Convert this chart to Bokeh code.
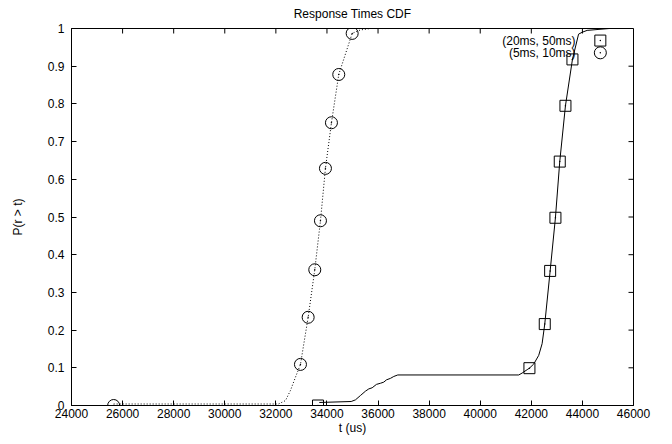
from bokeh.plotting import figure
from bokeh.models import Range1d, FixedTicker
from bokeh.core.properties import value
from bokeh.embed import file_html
from bokeh.resources import INLINE

title_text = "Response Times CDF"
x_label = "t (us)"
y_label = "P(r > t)"
x_ticks = [24000, 26000, 28000, 30000, 32000, 34000, 36000, 38000, 40000, 42000, 44000, 46000]
y_ticks = [0, 0.1, 0.2, 0.3, 0.4, 0.5, 0.6, 0.7, 0.8, 0.9, 1]
y_tick_labels = ["0", "0.1", "0.2", "0.3", "0.4", "0.5", "0.6", "0.7", "0.8", "0.9", "1"]

# Series A: (20ms, 50ms) - solid line, squares
a_name = "(20ms, 50ms)"
a_curve_t = [33700, 34948, 35116, 35311, 35507, 35637, 35770, 35938, 36094, 36224, 36329,
             36486, 36615, 36772, 41508, 41640, 41836, 41926, 42095, 42290, 42423, 42526,
             42737, 42944, 43113, 43336, 43610, 43850, 43990, 44185, 45050]
a_curve_p = [0.008, 0.0106, 0.015, 0.0265, 0.038, 0.044, 0.047, 0.056, 0.059, 0.062, 0.068,
             0.072, 0.077, 0.081, 0.081, 0.086, 0.095, 0.099, 0.11, 0.133, 0.164, 0.216,
             0.357, 0.498, 0.647, 0.795, 0.918, 0.985, 0.99, 0.995, 1.0]
a_pts_t = [33650, 41926, 42526, 42737, 42944, 43113, 43336, 43610]
a_pts_p = [0.0, 0.099, 0.216, 0.357, 0.498, 0.647, 0.795, 0.918]

# Series B: (5ms, 10ms) - dotted line, circles
b_name = "(5ms, 10ms)"
b_curve_t = [25650, 32100, 32376, 32572, 32767, 32963, 33264, 33523, 33746, 33941, 34176,
             34462, 34987, 35300, 35700]
b_curve_p = [0.004, 0.004, 0.013, 0.04, 0.075, 0.109, 0.234, 0.36, 0.49, 0.629, 0.75,
             0.878, 0.987, 0.996, 1.0]
b_pts_t = [25650, 32963, 33264, 33523, 33746, 33941, 34176, 34462, 34987]
b_pts_p = [0.0, 0.109, 0.234, 0.36, 0.49, 0.629, 0.75, 0.878, 0.987]

FONT = "Liberation Sans"
FS = "12px"
FW, FH = 562, 377
TICK = 5

x0, x1 = x_ticks[0], x_ticks[-1]
y0, y1 = y_ticks[0], y_ticks[-1]

p = figure(output_backend="svg", toolbar_location=None,
           frame_width=FW, frame_height=FH,
           min_border_left=71, min_border_right=39, min_border_top=28, min_border_bottom=39,
           x_range=Range1d(x0, x1), y_range=Range1d(y0, y1),
           x_axis_label=x_label, y_axis_label=y_label)
p.title.text = title_text
p.title.align = "center"
p.title.vertical_align = "top"
p.title.text_font = FONT
p.title.text_font_size = FS
p.title.text_font_style = "normal"
p.title.text_color = "black"
p.title.standoff = 12
p.xgrid.visible = False
p.ygrid.visible = False
p.outline_line_color = "black"
p.outline_line_width = 1
p.background_fill_color = "white"
p.border_fill_color = "white"

for ax in p.xaxis:
    ax.ticker = FixedTicker(ticks=x_ticks)
for ax in p.yaxis:
    ax.ticker = FixedTicker(ticks=y_ticks)
    ax.major_label_overrides = {t: l for t, l in zip(y_ticks, y_tick_labels)}

for ax in list(p.xaxis) + list(p.yaxis):
    ax.major_tick_in = TICK
    ax.major_tick_out = 0
    ax.minor_tick_in = 0
    ax.minor_tick_out = 0
    ax.axis_line_color = "black"
    ax.major_tick_line_color = "black"
    ax.major_label_text_font = FONT
    ax.major_label_text_font_size = FS
    ax.major_label_text_color = "black"
    ax.axis_label_text_font = FONT
    ax.axis_label_text_font_size = FS
    ax.axis_label_text_font_style = "normal"
    ax.axis_label_text_color = "black"

p.xaxis.major_label_standoff = 3
p.xaxis.axis_label_standoff = 0
p.yaxis.major_label_standoff = 7
p.yaxis.axis_label_standoff = 20

# mirrored ticks on top and right edges (derived from tick lists and ranges)
dy_tick = TICK / FH * (y1 - y0)
dx_tick = TICK / FW * (x1 - x0)
p.segment(x0=x_ticks, y0=[y1] * len(x_ticks), x1=x_ticks, y1=[y1 - dy_tick] * len(x_ticks),
          line_color="black", line_width=1)
p.segment(x0=[x1] * len(y_ticks), y0=y_ticks, x1=[x1 - dx_tick] * len(y_ticks), y1=y_ticks,
          line_color="black", line_width=1)

# curves
p.line(a_curve_t, a_curve_p, line_color="black", line_width=1)
p.line(b_curve_t, b_curve_p, line_color="black", line_width=1, line_dash="1 2")

# points
p.scatter(a_pts_t, a_pts_p, marker="square", size=11, fill_color=None,
          line_color="black", line_width=1)
p.scatter(b_pts_t, b_pts_p, marker="circle", size=12, fill_color=None,
          line_color="black", line_width=1)
p.scatter(a_pts_t + b_pts_t, a_pts_p + b_pts_p, marker="dot", size=6,
          line_color="black", fill_color="black")

# key (text to the left of symbol, gnuplot style)
lx_text = x0 + 0.897 * (x1 - x0)
lx_sym = x0 + 0.941 * (x1 - x0)
ly1 = y0 + 0.968 * (y1 - y0)
ly2 = y0 + 0.9355 * (y1 - y0)
p.text(x=[lx_text, lx_text], y=[ly1, ly2], text=[a_name, b_name],
       text_align="right", text_baseline="middle",
       text_font=value(FONT), text_font_size=FS, text_color="black")
p.scatter([lx_sym], [ly1], marker="square", size=11, fill_color=None,
          line_color="black", line_width=1)
p.scatter([lx_sym], [ly2], marker="circle", size=12, fill_color=None,
          line_color="black", line_width=1)
p.scatter([lx_sym, lx_sym], [ly1, ly2], marker="dot", size=6,
          line_color="black", fill_color="black")

open("out.html", "w").write(file_html(p, INLINE))
